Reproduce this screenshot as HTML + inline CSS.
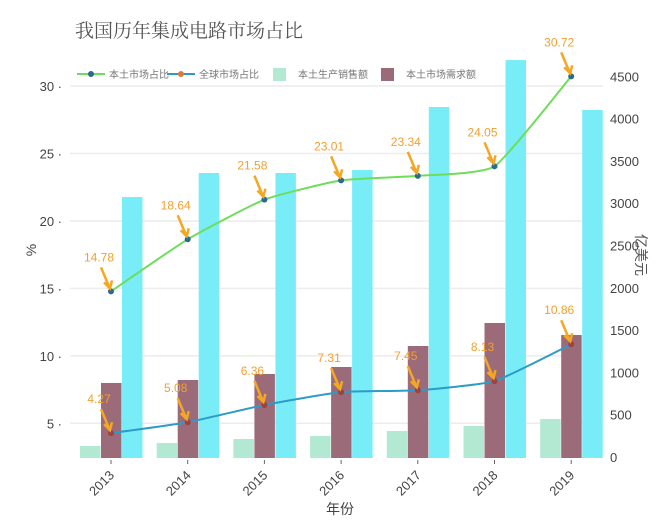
<!DOCTYPE html>
<html><head><meta charset="utf-8"><style>
body{margin:0;background:#fff;}
svg text{font-family:"Liberation Sans","Noto Sans CJK SC",sans-serif;}
</style></head><body>
<svg id="c" width="662" height="526" xmlns="http://www.w3.org/2000/svg">
<text x="75" y="37" font-size="19" fill="#555" style="font-family:'Noto Serif CJK SC','Noto Sans CJK SC',serif">我国历年集成电路市场占比</text>
<g id="grid"></g><g id="bars"></g><g id="lines"></g><g id="axes"></g><g id="legend"></g>
</svg>
<script>
const years=['2013','2014','2015','2016','2017','2018','2019'];
const localShare=[14.78,18.64,21.58,23.01,23.34,24.05,30.72];
const globalShare=[4.27,5.08,6.36,7.31,7.45,8.13,10.86];
const localSales=[130,165,213,248,307,366,449];
const localDemand=[875,910,981,1064,1312,1584,1442];
const totalBar=[3073,3357,3357,3392,4137,4692,4102];
const leftTicks=[5,10,15,20,25,30];
const rightTicks=[0,500,1000,1500,2000,2500,3000,3500,4000,4500];
const NS='http://www.w3.org/2000/svg';
const X0=70,X1=603,YB=458;
const xs=i=>111+i*76.7;
const yl=v=>423.3-(v-5)*13.49;
const yr=v=>457-v*0.0846;
function mk(t,a,p){const e=document.createElementNS(NS,t);for(const k in a)e.setAttribute(k,a[k]);p.appendChild(e);return e;}
const G=document.getElementById('grid'),B=document.getElementById('bars'),L=document.getElementById('lines'),A=document.getElementById('axes'),LG=document.getElementById('legend');
leftTicks.forEach(v=>{const y=yl(v);
 const g=mk('line',{x1:X0,x2:X1,y1:y,y2:y,stroke:'#ececec','stroke-width':1.5},G);
 
 const t=mk('text',{x:62,y:y+5,'text-anchor':'end','font-size':13,fill:'#444'},A);t.textContent=v+' ·';
 });
rightTicks.forEach(v=>{const t=mk('text',{x:610,y:yr(v)+5,'font-size':13,fill:'#444'},A);t.textContent=v;
 });
years.forEach((yv,i)=>{const x=xs(i);
 const r1=mk('rect',{x:x-31,y:yr(localSales[i]),width:20.5,height:YB-yr(localSales[i]),fill:'#b3e8d3'},B);
 
 const r2=mk('rect',{x:x-10,y:yr(localDemand[i]),width:20.5,height:YB-yr(localDemand[i]),fill:'#9b6b7a'},B);
 
 const r3=mk('rect',{x:x+11,y:yr(totalBar[i]),width:20.5,height:YB-yr(totalBar[i]),fill:'#78edf8'},B);
 
 const tk=mk('line',{x1:x,x2:x,y1:YB+2,y2:YB+6,stroke:'#666'},A);
 
 const t=mk('text',{x:x+4,y:YB+18,'text-anchor':'end','font-size':13,fill:'#444',transform:`rotate(-45 ${x+4} ${YB+18})`},A);t.textContent=yv;
 });
function smooth(pts){let d=`M${pts[0][0]},${pts[0][1]}`;
 for(let i=0;i<pts.length-1;i++){const p0=pts[Math.max(0,i-1)],p1=pts[i],p2=pts[i+1],p3=pts[Math.min(pts.length-1,i+2)];const k=0.08;
  d+=` C${p1[0]+(p2[0]-p0[0])*k},${p1[1]+(p2[1]-p0[1])*k} ${p2[0]-(p3[0]-p1[0])*k},${p2[1]-(p3[1]-p1[1])*k} ${p2[0]},${p2[1]}`;}
 return d;}
function series(vals,col,mcol,name){
 const p=mk('path',{d:smooth(vals.map((v,i)=>[xs(i),yl(v)])),fill:'none',stroke:col,'stroke-width':2},L);
 
 vals.forEach((v,i)=>{const x=xs(i),y=yl(v);
  const c=mk('circle',{cx:x,cy:y,r:3,fill:mcol},L);
  
  const ar=mk('path',{d:`M${x-10},${y-24} L${x-2},${y-5} M${x-7},${y-9} L${x-1},${y-3} L${x+1},${y-11}`,stroke:'#f5a623','stroke-width':2.5,fill:'none'},L);
  
  const t=mk('text',{x:x-12,y:y-30,'text-anchor':'middle','font-size':12,fill:'#f0a030'},L);t.textContent=v.toFixed(2);
  });}
series(localShare,'#6ddd5a','#2a6a8a','local-share');
series(globalShare,'#2d9bc8','#a04040','global-share');
const ya=mk('text',{x:36,y:250,'text-anchor':'middle','font-size':14,fill:'#444',transform:'rotate(-90 36 250)'},A);ya.textContent='%';

const yb=mk('text',{x:636,y:255,'text-anchor':'middle','font-size':14,fill:'#555',transform:'rotate(90 636 255)'},A);yb.textContent='亿美元';

const xa=mk('text',{x:340,y:514,'text-anchor':'middle','font-size':14,fill:'#444'},A);xa.textContent='年份';

const leg=[['line','#6ddd5a','#2a6a8a','本土市场占比',77],['line','#2d9bc8','#e07a30','全球市场占比',167],['rect','#b3e8d3','','本土生产销售额',273],['rect','#9b6b7a','','本土市场需求额',381]];
leg.forEach(l=>{const g=mk('g',{},LG);
 if(l[0]=='line'){mk('line',{x1:l[4],x2:l[4]+28,y1:74,y2:74,stroke:l[1],'stroke-width':2},g);mk('circle',{cx:l[4]+14,cy:74,r:3,fill:l[2]},g);}
 else mk('rect',{x:l[4],y:68,width:13,height:13,fill:l[1]},g);
 const t=mk('text',{x:l[4]+(l[0]=='line'?32:25),y:78,'font-size':10,fill:'#777'},g);t.textContent=l[3];});
</script>
</body></html>
